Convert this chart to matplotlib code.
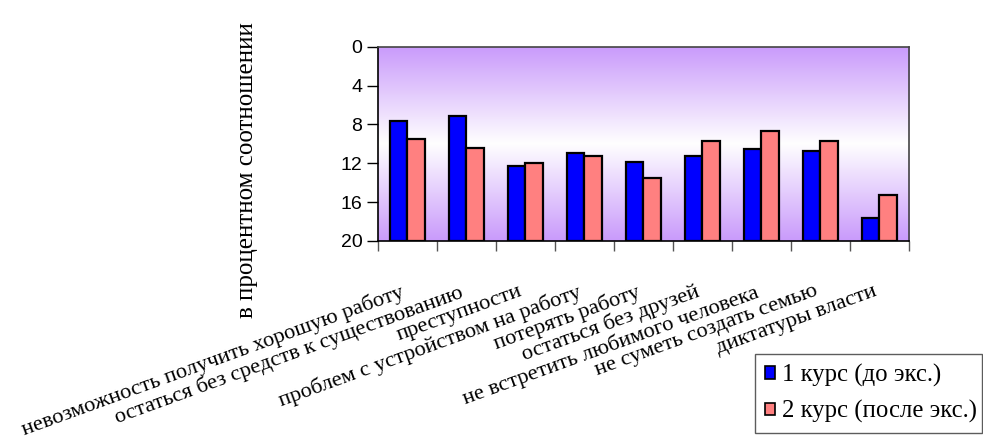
import numpy as np
import matplotlib
matplotlib.use("Agg")
import matplotlib.pyplot as plt
import matplotlib.transforms as mtransforms
from matplotlib.patches import Patch
from matplotlib.colors import to_rgb

plt.rcParams["font.family"] = ["Liberation Serif", "DejaVu Serif"]

categories = [
    "невозможность получить хорошую работу",
    "остаться без средств к существованию",
    "преступности",
    "проблем с устройством на работу",
    "потерять работу",
    "остаться без друзей",
    "не встретить любимого человека",
    "не суметь создать семью",
    "диктатуры власти",
]
course1 = [7.7, 7.1, 12.3, 10.9, 11.9, 11.3, 10.5, 10.7, 17.6]
course2 = [9.5, 10.4, 12.0, 11.3, 13.5, 9.7, 8.7, 9.7, 15.3]
series_names = ["1 курс (до экс.)", "2 курс (после экс.)"]
yticks = [0, 4, 8, 12, 16, 20]
ylabel = "в процентном соотношении"

blue = "#0000FF"
pink = "#FF8080"
purple = np.array(to_rgb("#C99AFB"))
white = np.array([1.0, 1.0, 1.0])

fig = plt.figure(figsize=(9.83, 4.38), dpi=100)
ax = fig.add_axes([0.3842, 0.4498, 0.5405, 0.4436])

# vertical two-tone gradient: purple at the edges, white in the middle
t = np.linspace(0, 1, 256)
w = np.abs(t - 0.5) * 2
grad = (purple[None, :] * w[:, None] + white[None, :] * (1 - w[:, None]))
grad = np.repeat(grad[:, None, :], 2, axis=1)
ax.imshow(grad, extent=[-0.5, 8.5, 20, 0], aspect="auto", zorder=0,
          interpolation="bilinear")

x = np.arange(len(categories))
bw = 0.295
base = 20
ax.bar(x - bw / 2, np.array(course1) - base, bottom=base, width=bw,
       color=blue, edgecolor="black", linewidth=1.6, zorder=2)
ax.bar(x + bw / 2, np.array(course2) - base, bottom=base, width=bw,
       color=pink, edgecolor="black", linewidth=1.6, zorder=2)

ax.set_xlim(-0.5, 8.5)
ax.set_ylim(20, 0)
ax.set_yticks(yticks)
ax.set_yticklabels([str(v) for v in yticks], fontsize=14,
                   family="Liberation Sans")
ax.tick_params(axis="y", length=8, width=1, direction="out", pad=3)

# category boundaries carry the tick marks; names are placed as slanted text
ax.set_xticks(np.arange(-0.5, 9, 1))
ax.set_xticklabels([])
ax.tick_params(axis="x", length=7, width=1, color="#555555")

label_trans = (mtransforms.blended_transform_factory(ax.transData, ax.transAxes)
               + mtransforms.ScaledTranslation(-7 / 100, -41 / 100,
                                               fig.dpi_scale_trans))
for xi, name in zip(x, categories):
    ax.text(xi, 0, name, transform=label_trans, rotation=20,
            rotation_mode="anchor", ha="right", va="top", fontsize=16.1,
            family="Liberation Serif", clip_on=False)

for side in ("left", "bottom"):
    ax.spines[side].set_color("black")
    ax.spines[side].set_linewidth(1.2)
for side in ("top", "right"):
    ax.spines[side].set_color("#444444")
    ax.spines[side].set_linewidth(1.2)

fig.text(0.251, 0.612, ylabel, rotation=90, ha="center", va="center",
         fontsize=18, family="Liberation Serif")

handles = [Patch(facecolor=blue, edgecolor="black", linewidth=1.2),
           Patch(facecolor=pink, edgecolor="black", linewidth=1.2)]
leg = fig.legend(handles, series_names, loc="lower left",
                 bbox_to_anchor=(0.768, 0.011, 0.231, 0.185),
                 mode="expand", frameon=True, fancybox=False,
                 edgecolor="#333333", prop={"family": "Liberation Serif", "size": 17.8},
                 handlelength=0.42, handleheight=0.42, handletextpad=0.27,
                 borderaxespad=0, labelspacing=0.55, borderpad=0.4)
leg.get_frame().set_linewidth(1.0)

fig.savefig("out.png", dpi=100)
